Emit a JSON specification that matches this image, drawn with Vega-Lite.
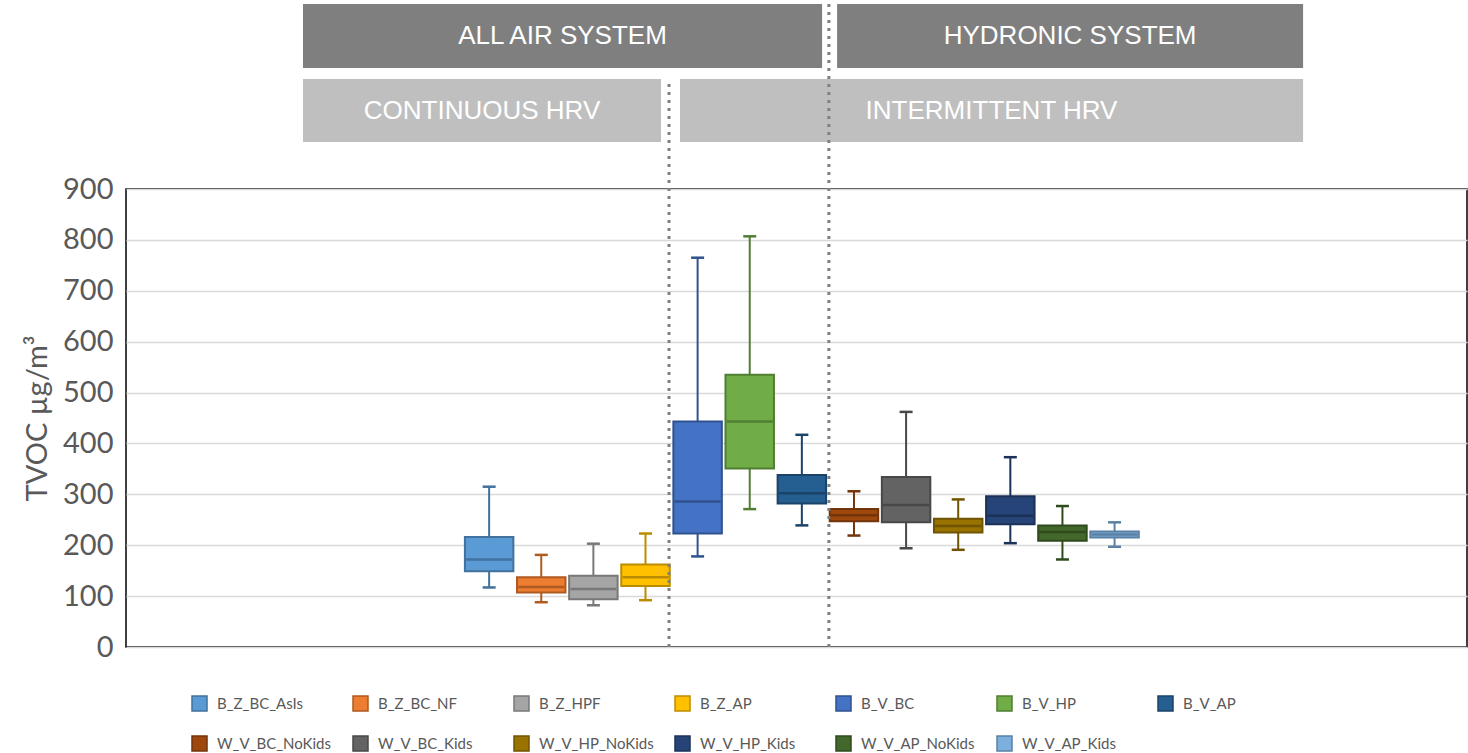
{
  "$schema": "https://vega.github.io/schema/vega-lite/v6.json",
  "width": 1341,
  "height": 458,
  "autosize": {"type": "none"},
  "padding": {"left": 126, "top": 189, "right": 1, "bottom": 106},
  "background": "white",
  "config": {
    "view": {"stroke": "#000000", "strokeWidth": 1.5},
    "font": "Lato"
  },
  "datasets": {
    "boxes": [
      {"series": "B_Z_BC_AsIs", "lo": 117, "q1": 149, "med": 172, "q3": 216, "hi": 315},
      {"series": "B_Z_BC_NF", "lo": 88, "q1": 107, "med": 118, "q3": 137, "hi": 181},
      {"series": "B_Z_HPF", "lo": 82, "q1": 94, "med": 114, "q3": 140, "hi": 203},
      {"series": "B_Z_AP", "lo": 92, "q1": 120, "med": 137, "q3": 162, "hi": 223},
      {"series": "B_V_BC", "lo": 178, "q1": 223, "med": 286, "q3": 443, "hi": 765},
      {"series": "B_V_HP", "lo": 271, "q1": 351, "med": 443, "q3": 535, "hi": 807},
      {"series": "B_V_AP", "lo": 239, "q1": 282, "med": 302, "q3": 338, "hi": 417},
      {"series": "W_V_BC_NoKids", "lo": 219, "q1": 247, "med": 259, "q3": 271, "hi": 306},
      {"series": "W_V_BC_Kids", "lo": 194, "q1": 245, "med": 279, "q3": 334, "hi": 462},
      {"series": "W_V_HP_NoKids", "lo": 191, "q1": 225, "med": 238, "q3": 252, "hi": 290},
      {"series": "W_V_HP_Kids", "lo": 204, "q1": 241, "med": 258, "q3": 296, "hi": 373},
      {"series": "W_V_AP_NoKids", "lo": 172, "q1": 209, "med": 226, "q3": 239, "hi": 277},
      {"series": "W_V_AP_Kids", "lo": 197, "q1": 215, "med": 221, "q3": 227, "hi": 245}
    ],
    "banners": [
      {"label": "ALL AIR SYSTEM", "level": "system", "x0": -2.571, "x1": 7.389, "xm": 2.409, "yTop": 1263.5, "yBot": 1137.8, "yMid": 1200.7},
      {"label": "HYDRONIC SYSTEM", "level": "system", "x0": 7.677, "x1": 16.618, "xm": 12.148, "yTop": 1263.5, "yBot": 1137.8, "yMid": 1200.7},
      {"label": "CONTINUOUS HRV", "level": "hrv", "x0": -2.571, "x1": 4.298, "xm": 0.864, "yTop": 1116.2, "yBot": 992.4, "yMid": 1053.3},
      {"label": "INTERMITTENT HRV", "level": "hrv", "x0": 4.663, "x1": 16.618, "xm": 10.64, "yTop": 1116.2, "yBot": 992.4, "yMid": 1053.3}
    ],
    "dividers": [
      {"pos": 4.452, "bottom": 0, "top": 1116.2},
      {"pos": 7.519, "bottom": 0, "top": 1263.5}
    ]
  },
  "resolve": {"scale": {"x": "independent", "y": "independent"}, "axis": {"x": "independent", "y": "independent"}},
  "layer": [
    {
      "data": {"name": "boxes"},
      "layer": [
        {
          "mark": {"type": "bar", "strokeWidth": 2},
          "encoding": {
            "x": {
              "field": "series",
              "type": "nominal",
              "axis": null,
              "scale": {
                "domain": ["B_Z_BC_AsIs", "B_Z_BC_NF", "B_Z_HPF", "B_Z_AP", "B_V_BC", "B_V_HP", "B_V_AP", "W_V_BC_NoKids", "W_V_BC_Kids", "W_V_HP_NoKids", "W_V_HP_Kids", "W_V_AP_NoKids", "W_V_AP_Kids"],
                "range": [338.9, 1012.8],
                "paddingInner": 0.07,
                "paddingOuter": 0
              }
            },
            "y": {
              "field": "q1", "type": "quantitative",
              "scale": {"domain": [0, 900], "nice": false},
              "axis": null
            },
            "y2": {"field": "q3"},
            "fill": {
              "field": "series", "type": "nominal",
              "scale": {
                "domain": ["B_Z_BC_AsIs", "B_Z_BC_NF", "B_Z_HPF", "B_Z_AP", "B_V_BC", "B_V_HP", "B_V_AP", "W_V_BC_NoKids", "W_V_BC_Kids", "W_V_HP_NoKids", "W_V_HP_Kids", "W_V_AP_NoKids", "W_V_AP_Kids"],
                "range": ["#5B9BD5", "#ED7D31", "#A5A5A5", "#FFC000", "#4472C4", "#70AD47", "#255E91", "#9E480E", "#636363", "#997300", "#264478", "#43682B", "#7CAFDD"]
              },
              "legend": {
                "orient": "none",
                "direction": "horizontal",
                "legendX": 65,
                "legendY": 506,
                "columns": 7,
                "title": null,
                "padding": 0,
                "symbolType": "square",
                "symbolSize": 225,
                "symbolStrokeWidth": 1.5,
                "labelFont": "Lato",
                "labelFontSize": 15,
                "labelColor": "#595959",
                "labelOffset": 9,
                "columnPadding": 18,
                "rowPadding": 19,
                "gridAlign": "all",
                "labelLimit": 300
              }
            },
            "stroke": {
              "field": "series", "type": "nominal",
              "scale": {
                "domain": ["B_Z_BC_AsIs", "B_Z_BC_NF", "B_Z_HPF", "B_Z_AP", "B_V_BC", "B_V_HP", "B_V_AP", "W_V_BC_NoKids", "W_V_BC_Kids", "W_V_HP_NoKids", "W_V_HP_Kids", "W_V_AP_NoKids", "W_V_AP_Kids"],
                "range": ["#41719C", "#AE5A21", "#787878", "#BC8C00", "#2F528F", "#507E32", "#1B4368", "#733409", "#484848", "#705400", "#1B3157", "#2F4B1E", "#5A81A3"]
              },
              "legend": {
                "orient": "none",
                "direction": "horizontal",
                "legendX": 65,
                "legendY": 506,
                "columns": 7,
                "title": null,
                "padding": 0,
                "symbolType": "square",
                "symbolSize": 225,
                "symbolStrokeWidth": 1.5,
                "labelFont": "Lato",
                "labelFontSize": 15,
                "labelColor": "#595959",
                "labelOffset": 9,
                "columnPadding": 18,
                "rowPadding": 19,
                "gridAlign": "all",
                "labelLimit": 300
              }
            }
          }
        },
        {
          "mark": {"type": "rule", "strokeWidth": 2},
          "encoding": {
            "x": {"field": "series", "type": "nominal"},
            "y": {"field": "lo", "type": "quantitative"},
            "y2": {"field": "q1"},
            "stroke": {"field": "series", "type": "nominal", "legend": null}
          }
        },
        {
          "mark": {"type": "rule", "strokeWidth": 2},
          "encoding": {
            "x": {"field": "series", "type": "nominal"},
            "y": {"field": "q3", "type": "quantitative"},
            "y2": {"field": "hi"},
            "stroke": {"field": "series", "type": "nominal", "legend": null}
          }
        },
        {
          "mark": {"type": "tick", "size": 46, "thickness": 2.5, "opacity": 1},
          "encoding": {
            "x": {"field": "series", "type": "nominal"},
            "y": {"field": "med", "type": "quantitative"},
            "color": {
              "field": "series", "type": "nominal", "legend": null,
              "scale": {
                "domain": ["B_Z_BC_AsIs", "B_Z_BC_NF", "B_Z_HPF", "B_Z_AP", "B_V_BC", "B_V_HP", "B_V_AP", "W_V_BC_NoKids", "W_V_BC_Kids", "W_V_HP_NoKids", "W_V_HP_Kids", "W_V_AP_NoKids", "W_V_AP_Kids"],
                "range": ["#41719C", "#AE5A21", "#787878", "#BC8C00", "#2F528F", "#507E32", "#1B4368", "#733409", "#484848", "#705400", "#1B3157", "#2F4B1E", "#5A81A3"]
              }
            }
          }
        },
        {
          "mark": {"type": "tick", "size": 13, "thickness": 2.5, "opacity": 1},
          "encoding": {
            "x": {"field": "series", "type": "nominal"},
            "y": {"field": "lo", "type": "quantitative"},
            "color": {"field": "series", "type": "nominal", "legend": null}
          }
        },
        {
          "mark": {"type": "tick", "size": 13, "thickness": 2.5, "opacity": 1},
          "encoding": {
            "x": {"field": "series", "type": "nominal"},
            "y": {"field": "hi", "type": "quantitative"},
            "color": {"field": "series", "type": "nominal", "legend": null}
          }
        }
      ]
    },
    {
      "layer": [
        {
          "data": {"name": "banners"},
          "transform": [{"filter": "datum.level === 'system'"}],
          "mark": {"type": "rect", "fill": "#7F7F7F"},
          "encoding": {
            "x": {"field": "x0", "type": "quantitative", "axis": null, "scale": {"domain": [-5.967, 19.763], "nice": false, "zero": false}},
            "x2": {"field": "x1"},
            "y": {
              "field": "yTop", "type": "quantitative",
              "scale": {"domain": [0, 900], "nice": false},
              "axis": {
                "orient": "left",
                "grid": true,
                "values": [0, 100, 200, 300, 400, 500, 600, 700, 800, 900],
                "title": "TVOC µg/m³",
                "domain": false,
                "ticks": false,
                "labelFont": "Lato",
                "labelFontSize": 29,
                "labelColor": "#595959",
                "labelPadding": 13,
                "titleFont": "Lato",
                "titleFontSize": 29,
                "titleFontWeight": "normal",
                "titleColor": "#595959",
                "titlePadding": 10,
                "gridColor": "#D9D9D9",
                "gridWidth": 1.5
              }
            },
            "y2": {"field": "yBot"}
          }
        },
        {
          "data": {"name": "banners"},
          "transform": [{"filter": "datum.level === 'hrv'"}],
          "mark": {"type": "rect", "fill": "#BFBFBF"},
          "encoding": {
            "x": {"field": "x0", "type": "quantitative"},
            "x2": {"field": "x1"},
            "y": {"field": "yTop", "type": "quantitative"},
            "y2": {"field": "yBot"}
          }
        },
        {
          "data": {"name": "banners"},
          "mark": {"type": "text", "fill": "#FFFFFF", "font": "Liberation Sans", "fontSize": 26, "align": "center", "baseline": "middle"},
          "encoding": {
            "x": {"field": "xm", "type": "quantitative"},
            "y": {"field": "yMid", "type": "quantitative"},
            "text": {"field": "label"}
          }
        },
        {
          "data": {"name": "dividers"},
          "mark": {"type": "rule", "stroke": "#808080", "strokeWidth": 3, "strokeDash": [3, 5]},
          "encoding": {
            "x": {"field": "pos", "type": "quantitative"},
            "y": {"field": "bottom", "type": "quantitative"},
            "y2": {"field": "top"}
          }
        }
      ]
    }
  ]
}
